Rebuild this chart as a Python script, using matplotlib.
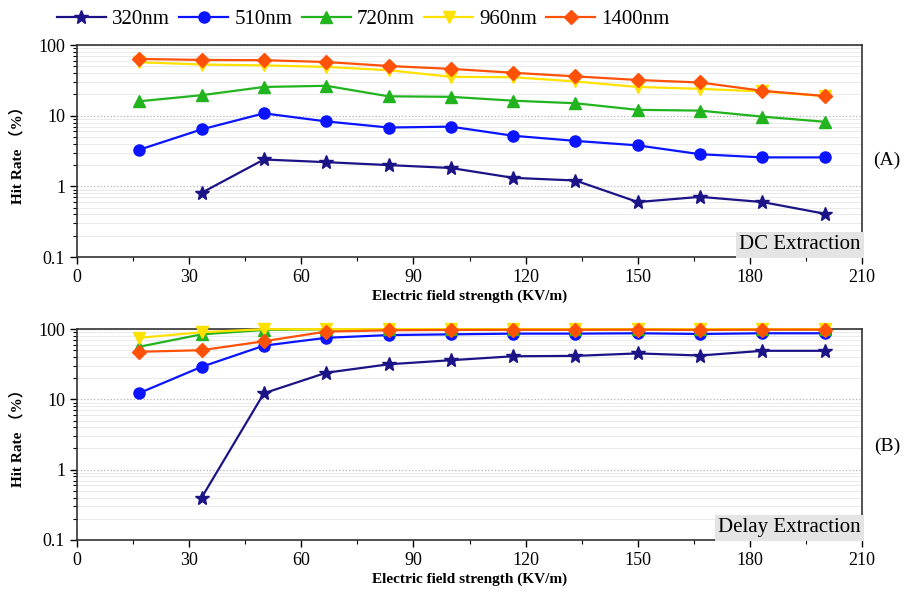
import matplotlib
matplotlib.use('Agg')
import matplotlib.pyplot as plt
from matplotlib.ticker import FixedLocator, LogLocator, NullFormatter, FixedFormatter

# Electric field strength (KV/m)
field = [16.67, 33.33, 50, 66.67, 83.33, 100, 116.67, 133.33, 150, 166.67, 183.33, 200]

wavelengths = ['320nm', '510nm', '720nm', '960nm', '1400nm']

# (A) DC extraction hit rate (%) -- 320nm has no point at the first field
dc_320 = [None, 0.81, 2.4, 2.2, 2.0, 1.82, 1.32, 1.21, 0.60, 0.71, 0.60, 0.41]
dc_510 = [3.3, 6.4, 10.8, 8.3, 6.8, 7.0, 5.2, 4.4, 3.8, 2.85, 2.57, 2.57]
dc_720 = [16.0, 19.5, 25.5, 26.5, 18.8, 18.5, 16.3, 15.0, 12.1, 11.8, 9.7, 8.2]
dc_960 = [57, 53, 51.5, 49, 44, 35.5, 35, 30.5, 25.5, 24, 22, 19]
dc_1400 = [63.5, 61.5, 61, 57.5, 50.5, 46, 40.5, 36, 32, 29.5, 22.5, 19]

# (B) Delay extraction hit rate (%)
de_320 = [None, 0.40, 12.2, 23.9, 31.5, 36, 41, 41.5, 45, 42, 49, 49]
de_510 = [12.3, 29, 58, 75, 82, 84, 86, 86, 87, 85, 87, 87]
de_720 = [56, 84, 97, 99, 99, 99, 99, 99, 99, 99, 99, 99]
de_960 = [75, 90, 99.5, 99.5, 99.5, 99.5, 99.5, 99.5, 99.5, 99.5, 99.5, 99.5]
de_1400 = [47.5, 50, 67, 92, 96, 97, 97.5, 97.5, 98, 97, 98, 98]

colors = ['#1c1486', '#0a14ff', '#22b41e', '#ffe100', '#ff5208']
markers = ['*', 'o', '^', 'v', 'D']
msizes = [10, 8, 8.5, 8.5, 7]

serif = ['Liberation Serif', 'Noto Sans CJK SC']
plt.rcParams['font.family'] = serif

fig = plt.figure(figsize=(9.21, 5.98), dpi=100)
ax_a = fig.add_axes([0.0836, 0.5702, 0.8524, 0.3545])
ax_b = fig.add_axes([0.0836, 0.0970, 0.8524, 0.3528])


def draw_panel(ax, series, box_text):
    handles = []
    for vals, c, m, ms, lab in zip(series, colors, markers, msizes, wavelengths):
        xs = [x for x, v in zip(field, vals) if v is not None]
        ys = [v for v in vals if v is not None]
        h, = ax.plot(xs, ys, color=c, marker=m, markersize=ms, linewidth=1.6,
                     label=lab, clip_on=False, zorder=3)
        handles.append(h)
    ax.set_yscale('log')
    ax.set_ylim(0.1, 100)
    ax.set_xlim(0, 210)
    ax.xaxis.set_major_locator(FixedLocator(range(0, 211, 30)))
    ax.xaxis.set_minor_locator(FixedLocator(range(15, 211, 30)))
    ax.yaxis.set_major_locator(FixedLocator([0.1, 1, 10, 100]))
    ax.yaxis.set_major_formatter(FixedFormatter(['0.1', '1', '10', '100']))
    ax.yaxis.set_minor_locator(LogLocator(base=10, subs=range(2, 10)))
    ax.yaxis.set_minor_formatter(NullFormatter())
    ax.tick_params(which='major', direction='out', length=5, width=1, labelsize=13)
    ax.tick_params(which='minor', direction='out', length=3, width=0.8)
    ax.grid(axis='y', which='major', color='#b4b4b4', linestyle=':', linewidth=0.9)
    ax.grid(axis='y', which='minor', color='#e6e6e6', linestyle='-', linewidth=0.6)
    ax.set_axisbelow(True)
    for s in ax.spines.values():
        s.set_linewidth(1.2)
        s.set_color('#333333')
    ax.set_xlabel('Electric field strength (KV/m)', fontsize=11, fontweight='bold', labelpad=3)
    ax.set_ylabel('Hit Rate （%）', fontsize=11, fontweight='bold', labelpad=10)
    ax.text(0.998, 0.012, box_text, transform=ax.transAxes, ha='right', va='bottom',
            fontsize=15, bbox=dict(boxstyle='square,pad=0.15', facecolor='#e4e4e4',
                                   edgecolor='none'), zorder=5)
    return handles


handles = draw_panel(ax_a, [dc_320, dc_510, dc_720, dc_960, dc_1400], 'DC Extraction')
draw_panel(ax_b, [de_320, de_510, de_720, de_960, de_1400], 'Delay Extraction')

fig.text(0.963, 0.732, '(A)', fontsize=14, ha='center', va='center')
fig.text(0.963, 0.254, '(B)', fontsize=14, ha='center', va='center')

fig.legend(handles=handles, loc='upper left', bbox_to_anchor=(0.048, 1.005), ncol=5,
           frameon=False, fontsize=15, handlelength=2.35, handletextpad=0.3,
           columnspacing=0.45, borderaxespad=0.2)

fig.savefig('out.png', dpi=100)
